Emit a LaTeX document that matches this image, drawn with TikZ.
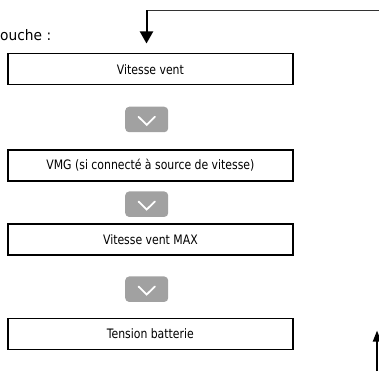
\documentclass[tikz,border=0pt]{standalone}
\usepackage{fontspec}
\usetikzlibrary{arrows.meta}
\setmainfont{DejaVu Sans Condensed}
\newfontfamily\labelfont{DejaVu Sans}
\newcommand{\sqz}[1]{\scalebox{0.93}[1]{#1}}
\begin{document}
\begin{tikzpicture}[x=1pt,y=-1pt,
  itembox/.style={draw,line width=1.4pt,minimum width=285pt,minimum height=31pt,inner sep=0pt,font=\fontsize{13}{15}\selectfont},
  btn/.style={fill=black!37,rounded corners=4pt,minimum width=43pt,minimum height=25.5pt,inner sep=0pt},
  chev/.style={white,line width=1.8pt,line cap=round,line join=miter},
  conn/.style={line width=1pt}]
\useasboundingbox (0,0) rectangle (379,371);
\node[anchor=base west,inner sep=0pt,font=\labelfont\fontsize{14.5}{16}\selectfont] (lbl) at (0,40.5) {\scalebox{0.95}[1]{ouche :}};
\node[itembox] (b1) at (150.4,69.2) {\sqz{Vitesse vent}};
\node[btn] (k1) at (146.7,119.5) {};
\node[itembox] (b2) at (150.4,165.5) {\sqz{VMG (si connecté à source de vitesse)}};
\node[btn] (k2) at (146.7,204.2) {};
\node[itembox] (b3) at (150.4,239.5) {\sqz{Vitesse vent MAX}};
\node[btn] (k3) at (146.7,289.2) {};
\node[itembox] (b4) at (150.4,333.9) {\sqz{Tension batterie}};
\foreach \k in {k1,k2,k3}{
  \draw[chev] ([shift={(-8.3,-2.8)}]\k.center) -- ([shift={(0,5.3)}]\k.center) -- ([shift={(8.3,-2.8)}]\k.center);
}
\coordinate (tr) at (379,10.5);
\coordinate (tl) at (146.5,10.5);
\coordinate (tip) at (146.5,43.5);
\draw[line width=1.2pt,black!80] (tr) -- (tl);
\draw[line width=2pt,-{Triangle[length=12pt,width=13pt]}] (tl) -- (tip);
\coordinate (ub) at (377,371);
\coordinate (ut) at (377,330.5);
\draw[line width=2pt,-{Triangle[length=11pt,width=8pt]}] (ub) -- (ut);
\end{tikzpicture}
\end{document}
